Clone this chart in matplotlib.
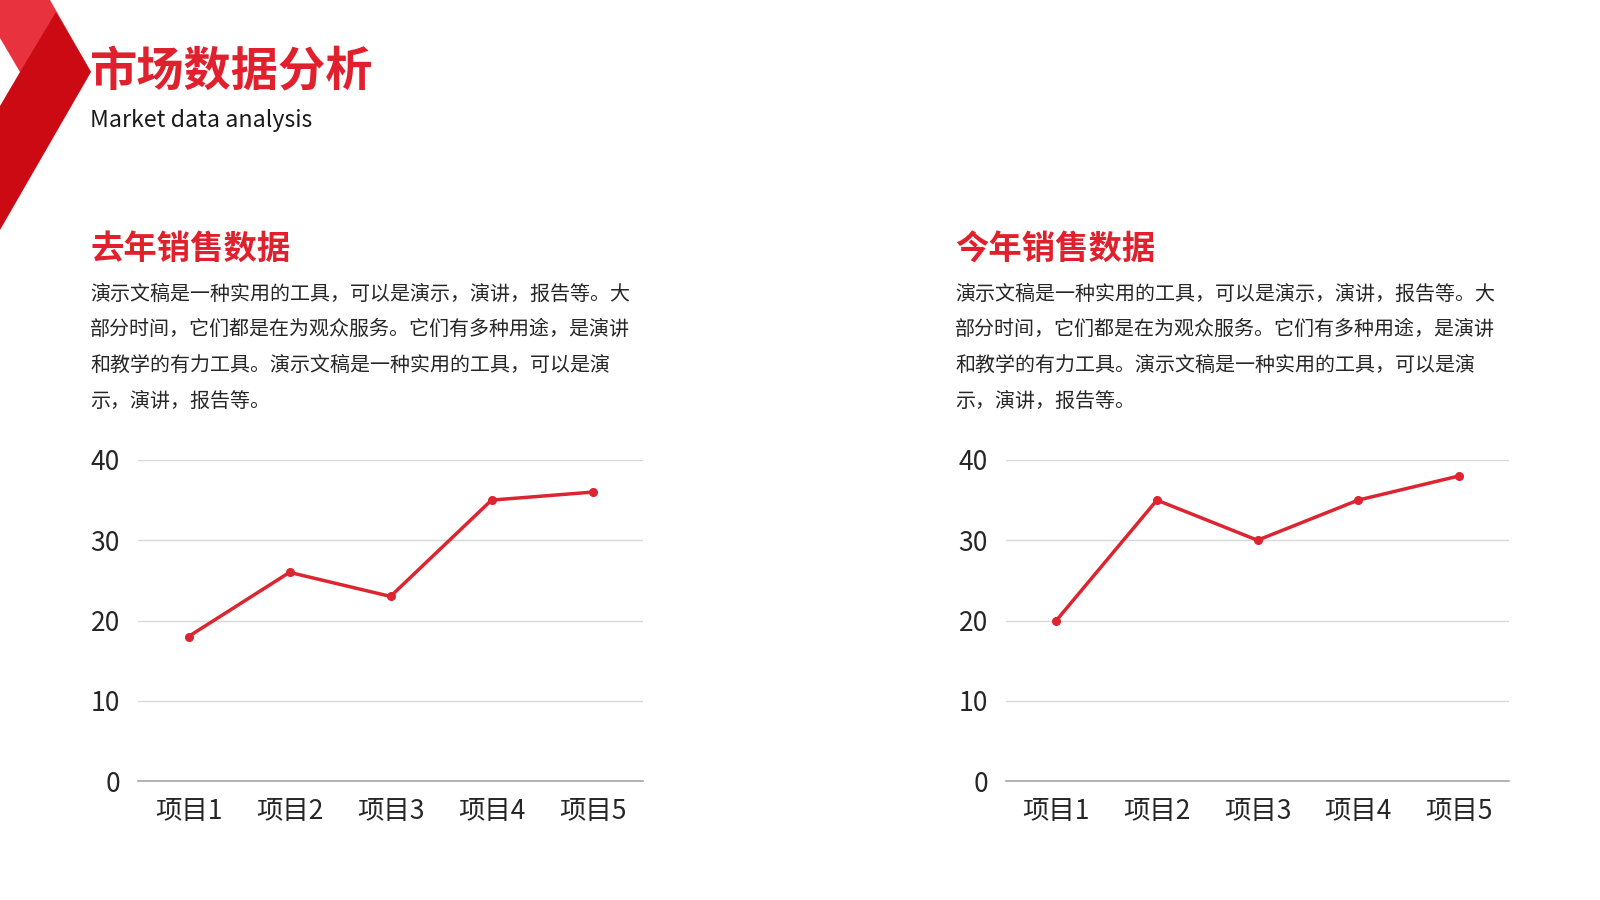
import matplotlib
matplotlib.use("Agg")
import matplotlib.pyplot as plt
from matplotlib.patches import Polygon

plt.rcParams['font.family'] = ['Noto Sans CJK SC', 'DejaVu Sans']

categories = ['项目1', '项目2', '项目3', '项目4', '项目5']
last_year = [18, 26, 23, 35, 36]
this_year = [20, 35, 30, 35, 38]
y_ticks = [0, 10, 20, 30, 40]

title = '市场数据分析'
subtitle = 'Market data analysis'
left_heading = '去年销售数据'
right_heading = '今年销售数据'
body_lines = [
    '演示文稿是一种实用的工具，可以是演示，演讲，报告等。大',
    '部分时间，它们都是在为观众服务。它们有多种用途，是演讲',
    '和教学的有力工具。演示文稿是一种实用的工具，可以是演',
    '示，演讲，报告等。',
]

RED = '#E0202C'
LINE_RED = '#DC2530'
LIGHT_RED = '#E8323E'
DARK_RED = '#CC0A14'
W, H = 1600, 900

fig = plt.figure(figsize=(16, 9), dpi=100)
bg = fig.add_axes([0, 0, 1, 1])
bg.set_xlim(0, W)
bg.set_ylim(H, 0)
bg.axis('off')

# decoration top-left
bg.add_patch(Polygon([(0, 0), (50, 0), (91, 72), (20, 72), (0, 38)], closed=True,
                     facecolor=LIGHT_RED, edgecolor='none'))
bg.add_patch(Polygon([(56, 12), (91, 72), (0, 230), (0, 106), (20, 72)], closed=True,
                     facecolor=DARK_RED, edgecolor='none'))

bg.text(90, 72, title, fontsize=34, fontweight='heavy', color=RED, va='center', ha='left')
bg.text(90, 121, subtitle, fontsize=16.7, color='#1a1a1a', va='center', ha='left')

for x0, heading in [(90, left_heading), (955, right_heading)]:
    bg.text(x0, 249, heading, fontsize=24, fontweight='heavy', color=RED, va='center', ha='left')
    for i, line in enumerate(body_lines):
        bg.text(x0, 294 + i * 35.8, line, fontsize=14.4, color='#262626', va='center', ha='left')


def make_chart(rect, values):
    ax = fig.add_axes(rect)
    x = list(range(len(categories)))
    ax.plot(x, values, color=LINE_RED, lw=2.5, marker='o', markersize=5.5, zorder=3)
    ax.set_xlim(-0.5, len(categories) - 0.5)
    ax.set_ylim(0, 40)
    ax.set_yticks(y_ticks)
    ax.set_xticks(x)
    ax.set_xticklabels(categories)
    ax.yaxis.grid(True, color='#D9D9D9', lw=1.0)
    ax.set_axisbelow(True)
    for s in ['left', 'right', 'top']:
        ax.spines[s].set_visible(False)
    ax.spines['bottom'].set_color('#A6A6A6')
    ax.spines['bottom'].set_linewidth(1.2)
    ax.tick_params(axis='both', length=0, labelsize=19, colors='#262626')
    ax.tick_params(axis='y', pad=13)
    ax.tick_params(axis='x', pad=12)
    ax.set_facecolor('none')
    return ax


make_chart([138 / W, (H - 781) / H, 505 / W, 321 / H], last_year)
make_chart([1006 / W, (H - 781) / H, 503 / W, 321 / H], this_year)

fig.savefig('out.png', dpi=100)
